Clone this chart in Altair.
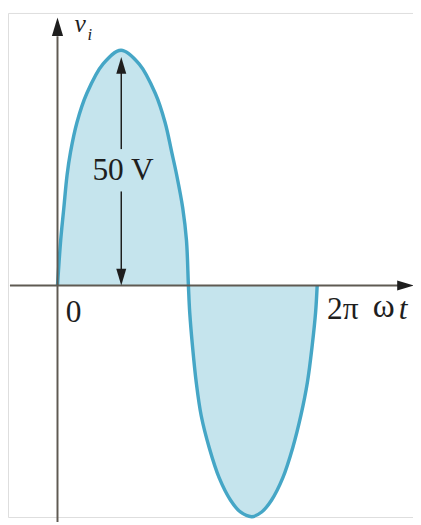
import altair as alt
import pandas as pd

# values: angle (degrees of ωt) and voltage v_i (V)
angle_deg = [0, 4.4, 8.8, 13.3, 18.0, 26.9, 40.6, 63.3, 88.2, 113.2, 135.8, 149.4,
             158.6, 165.4, 173.8, 179.0, 181.7,
             183.5, 187.2, 192.6, 199.4, 210.7, 224.3, 240.2, 253.8, 269.8,
             283.4, 297.0, 312.8, 326.4, 337.8, 346.8, 353.6, 358.2, 360.4]
voltage_v = [0, 9.6, 16.5, 23.5, 28.3, 34.6, 40.8, 47.1, 50.0, 47.1, 40.8, 34.6,
             28.3, 23.5, 16.5, 9.6, 0,
             -5.7, -12.6, -20.6, -27.6, -34.5, -40.8, -45.6, -48.1, -49.1,
             -48.1, -45.6, -40.8, -34.5, -27.6, -20.6, -12.6, -5.7, 0]

# axis extents (in data units)
x_axis_deg = [-66, 474]
y_axis_v = [-52, 53]
# peak-amplitude dimension arrow (50 V) segments
dim_top_v = [45.4, 29.0]
dim_bottom_v = [20.0, 3.3]

curve = pd.DataFrame({"deg": angle_deg, "v": voltage_v})

W, H = 413, 514
xs = alt.Scale(domain=[-68.7, 493.4], range=[0, W], nice=False, zero=False)
ys = alt.Scale(domain=[-49.17, 57.92], range=[H, 0], nice=False, zero=False)

FILL = "#c5e4ed"
STROKE = "#45a6c6"
AXIS = "#5f5a52"
INK = "#1e1e1e"
SERIF = "Liberation Serif"

area = alt.Chart(curve).mark_area(interpolate="catmull-rom", color=FILL, clip=False).encode(
    x=alt.X("deg:Q", scale=xs, axis=None),
    y=alt.Y("v:Q", scale=ys, axis=None),
    y2=alt.datum(0),
)
line = alt.Chart(curve).mark_line(interpolate="catmull-rom", color=STROKE, strokeWidth=3.5, clip=False).encode(
    x=alt.X("deg:Q", scale=xs, axis=None),
    y=alt.Y("v:Q", scale=ys, axis=None),
)

x_axis = alt.Chart().mark_rule(color=AXIS, strokeWidth=2).encode(
    x=alt.datum(x_axis_deg[0], scale=xs), x2=alt.datum(x_axis_deg[1]),
    y=alt.datum(0, scale=ys),
)
y_axis = alt.Chart().mark_rule(color=AXIS, strokeWidth=2).encode(
    x=alt.datum(0, scale=xs),
    y=alt.datum(y_axis_v[0], scale=ys), y2=alt.datum(y_axis_v[1]),
)
dim1 = alt.Chart().mark_rule(color=INK, strokeWidth=1.5).encode(
    x=alt.datum(88.5, scale=xs),
    y=alt.datum(dim_top_v[0], scale=ys), y2=alt.datum(dim_top_v[1]),
)
dim2 = alt.Chart().mark_rule(color=INK, strokeWidth=1.5).encode(
    x=alt.datum(88.5, scale=xs),
    y=alt.datum(dim_bottom_v[0], scale=ys), y2=alt.datum(dim_bottom_v[1]),
)

UP = "M0,-1L0.6,1L-0.6,1Z"
DOWN = "M0,1L0.6,-1L-0.6,-1Z"
RIGHT = "M1,0L-1,-0.6L-1,0.6Z"

def head(xd, yd, shape, size):
    return alt.Chart().mark_point(shape=shape, size=size, filled=True, color=INK, opacity=1, strokeWidth=0).encode(
        x=alt.datum(xd, scale=xs), y=alt.datum(yd, scale=ys)
    )

heads = [
    head(0, 55.0, UP, 361),
    head(483, 0, RIGHT, 289),
    head(88.5, 46.8, UP, 289),
    head(88.5, 1.8, DOWN, 289),
]

def label(txt, xd, yd, size=32, align="center", style="normal", baseline="middle"):
    return alt.Chart().mark_text(
        text=txt, font=SERIF, fontSize=size, fontStyle=style, align=align,
        baseline=baseline, color=INK,
    ).encode(x=alt.datum(xd, scale=xs), y=alt.datum(yd, scale=ys))

texts = [
    label("50 V", 91, 24.6),
    label("0", 22.5, -5.6),
    label("2π", 396, -5.0),
    label("ω", 437.6, -4.6, size=34, align="left"),
    label("t", 473.5, -5.0, align="left", style="italic"),
    label("v", 31.3, 53.9, size=26, style="italic", baseline="alphabetic"),
    label("i", 45, 53.3, size=17, style="italic"),
]

chart = alt.layer(area, line, x_axis, y_axis, dim1, dim2, *heads, *texts).properties(
    width=W, height=H, autosize=alt.AutoSizeParams(type="none"), padding=0,
).configure_view(strokeWidth=0, stroke="transparent").configure(background="white")

chart.save("out.html", embed_options={"renderer": "svg", "actions": False})
